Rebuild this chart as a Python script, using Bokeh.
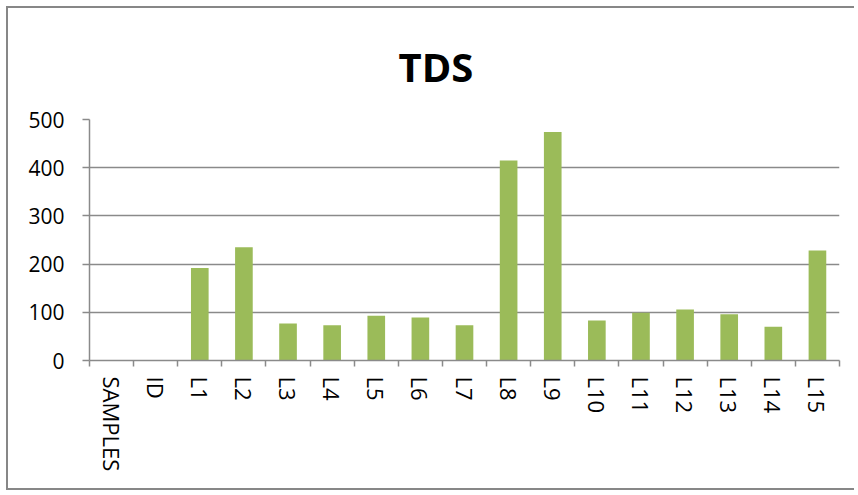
import math
from bokeh.plotting import figure
from bokeh.models import Range1d, FixedTicker
from bokeh.embed import file_html
from bokeh.resources import INLINE

categories = ["SAMPLES", "ID", "L1", "L2", "L3", "L4", "L5", "L6", "L7", "L8",
              "L9", "L10", "L11", "L12", "L13", "L14", "L15"]
tds = [float("nan"), float("nan"), 192, 235, 77, 73, 93, 89, 73, 415,
       474, 83, 99, 106, 96, 70, 228]
y_ticks = [0, 100, 200, 300, 400, 500]

FONT = "Open Sans"
GRAY = "#8a8a8a"

centers = [i + 0.5 for i in range(len(categories))]
bounds = list(range(len(categories) + 1))

p = figure(width=848, height=484, output_backend="svg", toolbar_location=None,
           x_range=Range1d(0, len(categories)), y_range=Range1d(0, 500),
           min_border_left=81, min_border_right=17, min_border_top=111,
           min_border_bottom=132)
p.styles = {"border": "2px solid #878787", "border-right": "none",
            "margin": "6px 0 0 6px"}
p.outline_line_color = None
p.background_fill_color = "white"
p.border_fill_color = "white"

p.title.text = "TDS"
p.title.text_font = FONT
p.title.text_font_style = "bold"
p.title.text_font_size = "40px"
p.title.text_color = "black"
p.title.align = "left"
p.title.offset = 309
p.title.standoff = 51

p.vbar(x=centers, top=tds, width=0.4, bottom=0, fill_color="#9BBB59",
       line_color=None)

# x axis
xa = p.xaxis[0]
xa.ticker = FixedTicker(ticks=centers, minor_ticks=bounds)
xa.major_label_overrides = {c: n for c, n in zip(centers, categories)}
xa.major_label_orientation = "vertical"
xa.major_tick_out = 0
xa.major_tick_in = 0
xa.minor_tick_out = 6
xa.minor_tick_in = 0
xa.minor_tick_line_color = GRAY
xa.minor_tick_line_width = 1.5
xa.axis_line_color = GRAY
xa.axis_line_width = 1.5
xa.major_label_text_font = FONT
xa.major_label_text_font_size = "22px"
xa.major_label_text_color = "black"
xa.major_label_standoff = 10

# y axis
ya = p.yaxis[0]
ya.ticker = FixedTicker(ticks=y_ticks)
ya.minor_tick_line_color = None
ya.major_tick_out = 7
ya.major_tick_in = 0
ya.major_tick_line_color = GRAY
ya.major_tick_line_width = 1.5
ya.axis_line_color = GRAY
ya.axis_line_width = 1.5
ya.major_label_text_font = FONT
ya.major_label_text_font_size = "21px"
ya.major_label_text_color = "black"
ya.major_label_standoff = 18

p.xgrid.grid_line_color = None
p.ygrid.grid_line_color = GRAY
p.ygrid.grid_line_width = 1.5
p.ygrid.ticker = FixedTicker(ticks=y_ticks)

open("out.html", "w").write(file_html(p, INLINE))
